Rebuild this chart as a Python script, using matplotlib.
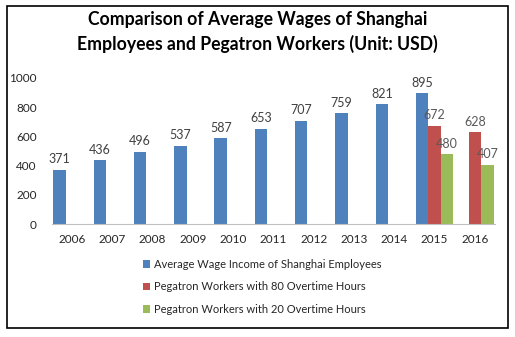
import numpy as np
import matplotlib.pyplot as plt
from matplotlib.patches import Rectangle

years = ['2006', '2007', '2008', '2009', '2010', '2011', '2012', '2013', '2014', '2015', '2016']
shanghai_avg = [371, 436, 496, 537, 587, 653, 707, 759, 821, 895, None]
pegatron_80 = [None] * 9 + [672, 628]
pegatron_20 = [None] * 9 + [480, 407]

series_names = ['Average Wage Income of Shanghai Employees',
                'Pegatron Workers with 80 Overtime Hours',
                'Pegatron Workers with 20 Overtime Hours']
colors = ['#4F81BD', '#C0504D', '#9BBB59']
label_colors = ['#404040', '#595959', '#595959']

plt.rcParams['font.family'] = ['Lato', 'DejaVu Sans']

fig = plt.figure(figsize=(5.15, 3.37), dpi=100)
ax = fig.add_axes([0.101, 0.335, 0.860, 0.434])

x = np.arange(len(years))
w = 0.31
for i, (vals, name) in enumerate(zip([shanghai_avg, pegatron_80, pegatron_20], series_names)):
    xs = [xi + (i - 1) * w for xi, v in zip(x, vals) if v is not None]
    ys = [v for v in vals if v is not None]
    ax.bar(xs, ys, width=w, color=colors[i], label=name)
    for xx, yy in zip(xs, ys):
        ax.text(xx, yy + 30, str(yy), ha='center', va='bottom', fontsize=9,
                color=label_colors[i])

ax.set_xlim(-0.5, len(years) - 0.5)
ax.set_ylim(0, 1000)
ax.set_yticks(range(0, 1001, 200))
ax.set_xticks(x)
ax.set_xticklabels(years)
ax.tick_params(axis='both', length=0, labelsize=8.5, colors='#262626')
ax.tick_params(axis='y', pad=11)
ax.tick_params(axis='x', pad=7)
for s in ['top', 'right', 'left']:
    ax.spines[s].set_visible(False)
ax.spines['bottom'].set_color('#BFBFBF')

fig.text(0.5, 0.905, 'Comparison of Average Wages of Shanghai\nEmployees and Pegatron Workers (Unit: USD)',
         ha='center', va='center', fontsize=12.7, fontweight='bold', linespacing=1.4)

fig.legend(loc='upper left', bbox_to_anchor=(0.277, 0.232), frameon=False,
           fontsize=8, handlelength=0.7, handleheight=0.7, handletextpad=0.3,
           labelspacing=1.05, borderaxespad=0, borderpad=0, labelcolor='#262626')

fig.patches.append(Rectangle((7 / 515, 1 - 328 / 337), 501 / 515, 322 / 337,
                             transform=fig.transFigure, fill=False,
                             edgecolor='black', linewidth=1.2))

plt.savefig('out.png', dpi=100)
plt.close()
